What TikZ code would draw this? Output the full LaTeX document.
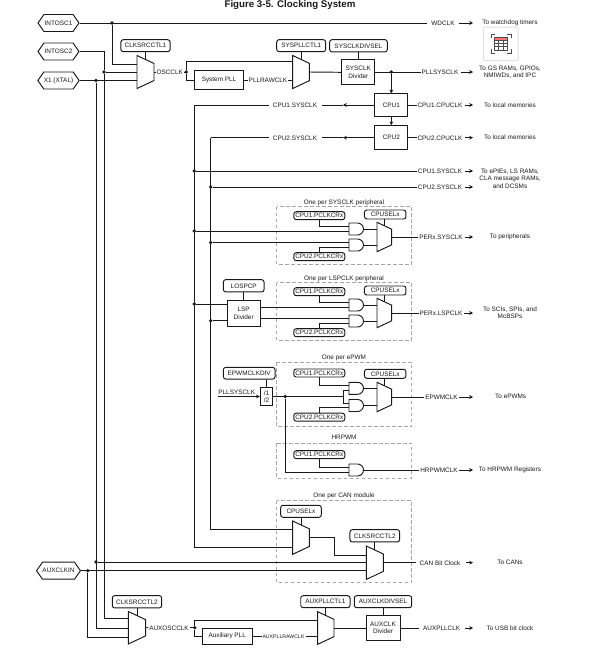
\documentclass[tikz,border=0pt]{standalone}
\usepackage{fontspec}
\setmainfont{Liberation Sans}
\usetikzlibrary{
  arrows.meta,shapes.symbols,positioning,calc
}
\definecolor{inkc}{gray}{0.1}
\tikzset{
  wire/.style={draw=inkc,line width=.95pt},
  tipline/.style={wire,-{Stealth[length=3.8pt,width=3.8pt]}},
  gate/.style={wire,fill=white,line join=miter},
  lbl/.style={font=\fontsize{6.4}{7.3}\selectfont,text=inkc,inner sep=.8pt,text height=4.6pt,text depth=0pt},
  smalllbl/.style={lbl,font=\fontsize{5.2}{6}\selectfont},
  note/.style={font=\fontsize{6.4}{7.3}\selectfont,text=inkc,align=center,inner sep=0pt},
  box/.style={wire,fill=white,inner sep=0pt,align=center,font=\fontsize{6.4}{7.3}\selectfont,text=inkc},
  reg/.style={box,rounded corners=2.4pt},
  pclk/.style={reg,minimum width=51pt,minimum height=8pt},
  sel/.style={reg,minimum width=41.5pt,minimum height=9pt},
  hexpin/.style={wire,fill=white,signal,signal to=east and west,signal pointer angle=110,
    minimum width=41pt,minimum height=17pt,inner sep=0pt,font=\fontsize{6.4}{7.3}\selectfont,text=inkc},
  dot/.style={circle,fill=inkc,inner sep=0pt,minimum size=3.8pt},
  group/.style={draw=black!35,line width=.7pt,dash pattern=on 3.5pt off 2.5pt}
}
\newcommand{\muxshape}[5]{
  \draw[gate] (#2,#4) -- (#3,{#4+(#3-#2)*.47}) -- (#3,{#5-(#3-#2)*.47}) -- (#2,#5) -- cycle;
  \coordinate (#1-o) at (#3,{(#4+#5)/2});
  \coordinate (#1-t) at ({(#2+#3)/2},{#4+(#3-#2)*.235});
}
\newcommand{\andshape}[3]{
  \draw[gate] (#2,#3) -- ({#2+8.5},#3) arc[start angle=90,end angle=-90,radius=6pt] -- (#2,{#3+12}) -- cycle;
  \coordinate (#1-a) at (#2,{#3+3.5});
  \coordinate (#1-b) at (#2,{#3+8});
  \coordinate (#1-o) at ({#2+14.5},{#3+6});
}
\begin{document}
\begin{tikzpicture}[x=1pt,y=-1pt]
  \useasboundingbox (0,0) rectangle (596,659);
  \node[font=\bfseries\fontsize{9.7}{10}\selectfont,text=inkc,inner sep=0pt,anchor=base] (title) at (290,7.3) {Figure 3-5. Clocking System};
  \coordinate (outx) at (473,0);

  % inputs
  \node[hexpin] (intosc1) at (58.5,23) {INTOSC1};
  \node[hexpin] (intosc2) at (58.5,51.5) {INTOSC2};
  \node[hexpin] (xtal) at (58.5,80.5) {X1 (XTAL)};
  \node[hexpin] (auxin) at (58.5,570.7) {AUXCLKIN};

  % osc mux and system pll
  \muxshape{oscm}{137}{154}{55.5}{88.5}
  \coordinate (oscm-a) at (137,64);
  \coordinate (oscm-b) at (137,72);
  \coordinate (oscm-c) at (137,80.5);
  \node[reg,minimum width=49.3pt,minimum height=12pt] (srca) at (145.5,45.7) {CLKSRCCTL1};
  \draw[wire] (srca.south -| oscm-t) -- (oscm-t);
  \node[dot] (jnwd) at (112,23) {};
  \node[dot] (jnint) at (104,72) {};
  \node[dot] (jnx) at (96,80.5) {};
  \node[dot] (jnxcan) at (96,562) {};
  \node[dot] (jnaux) at (87.7,570.7) {};
  \node[lbl] (wdclk) at (443,23) {WDCLK};
  \node[note] (towd) at (510,23) {To watchdog timers};
  \draw[wire,shorten >=3pt] (intosc1.east) -- (wdclk.west);
  \draw[tipline,shorten <=3pt] (wdclk.east) -- (wdclk -| outx);
  \draw[wire] (jnwd) |- (oscm-a);
  \draw[wire] (intosc2.east) -| (jnint);
  \draw[wire] (jnint) -- (oscm-b);
  \draw[wire] (xtal.east) -- (oscm-c);

  \node[lbl] (oscclk) at (169.7,72) {OSCCLK};
  \node[dot] (jnosc) at (186.3,72) {};
  \draw[wire] (oscm-o) -- (oscclk.west);
  \draw[wire] (oscclk.east) -- (jnosc);
  \node[box,minimum width=49.4pt,minimum height=18.3pt] (syspll) at (219,80) {System PLL};
  \node[lbl] (pllraw) at (268,80) {PLLRAWCLK};
  \muxshape{pllm}{292.7}{309.3}{55.5}{88.5}
  \coordinate (pllm-a) at (292.7,61.3);
  \coordinate (pllm-c) at (292.7,80);
  \draw[wire] (jnosc) |- (pllm-a);
  \draw[wire] (jnosc) |- (syspll.west);
  \draw[wire] (syspll.east) -- (pllraw.west);
  \draw[wire] (pllraw.east) -- (pllm-c);
  \node[reg,minimum width=49pt,minimum height=12pt] (pllctl) at (301.2,45.7) {SYSPLLCTL1};
  \node[reg,minimum width=57.6pt,minimum height=12.3pt] (divsel) at (358.5,45.8) {SYSCLKDIVSEL};
  \node[box,minimum width=33.3pt,minimum height=24.7pt] (sysdiv) at (358.3,72.3) {SYSCLK\\Divider};
  \draw[wire] (pllctl.south -| pllm-t) -- (pllm-t);
  \draw[wire] (divsel.south) -- (sysdiv.north -| divsel.south);
  \draw[wire] (pllm-o) -- (sysdiv.west);

  % cpus
  \node[lbl] (pllsys) at (440,72) {PLLSYSCLK};
  \node[note] (togs) at (510,72) {To GS RAMs, GPIOs,\\NMIWDs, and IPC};
  \node[dot] (jnpll) at (391.3,72) {};
  \draw[wire] (sysdiv.east |- pllsys) -- (pllsys.west);
  \draw[tipline,shorten <=2pt] (pllsys.east) -- (pllsys -| outx);
  \node[box,minimum width=33pt,minimum height=22.3pt] (cpua) at (391.3,105) {CPU1};
  \node[box,minimum width=33pt,minimum height=24pt] (cpub) at (391.3,137.7) {CPU2};
  \draw[tipline] (jnpll) -- (cpua.north);
  \draw[tipline] (cpua.south) -- (cpub.north);
  \node[lbl] (cpuclka) at (440,105) {CPU1.CPUCLK};
  \node[lbl] (cpuclkb) at (440,137.7) {CPU2.CPUCLK};
  \node[note] (tomema) at (510,105) {To local memories};
  \node[note] (tomemb) at (510,137.7) {To local memories};
  \draw[wire] (cpua.east) -- (cpuclka.west);
  \draw[wire] (cpub.east) -- (cpuclkb.west);
  \draw[tipline,shorten <=2pt] (cpuclka.east) -- (cpuclka -| outx);
  \draw[tipline,shorten <=2pt] (cpuclkb.east) -- (cpuclkb -| outx);
  \node[lbl] (sysa) at (295,105) {CPU1.SYSCLK};
  \node[lbl] (sysb) at (295,137.7) {CPU2.SYSCLK};
  \coordinate (tipa) at (343,105);
  \coordinate (tipb) at (343,137.7);
  \coordinate (busa) at (194.3,105);
  \coordinate (busb) at (210.7,137.7);
  \draw[tipline] (cpua.west) -- (tipa);
  \draw[wire,shorten >=4pt] (tipa) -- (sysa.east);
  \draw[tipline] (cpub.west) -- (tipb);
  \draw[wire,shorten >=4pt] (tipb) -- (sysb.east);
  \draw[wire,shorten <=3pt] (sysa.west) -- (busa);
  \draw[wire,shorten <=3pt] (sysb.west) -- (busb);
  \node[dot] (jna) at (194.3,171) {};
  \node[dot] (jnb) at (210.7,187) {};
  \node[lbl] (outa) at (440,171) {CPU1.SYSCLK};
  \node[lbl] (outb) at (440,187) {CPU2.SYSCLK};
  \node[note] (toepie) at (510,178.5) {To ePIEs, LS RAMs,\\CLA message RAMs,\\and DCSMs};
  \draw[wire] (jna) -- (outa.west);
  \draw[wire] (jnb) -- (outb.west);
  \draw[tipline,shorten <=2pt] (outa.east) -- (outa -| outx);
  \draw[tipline,shorten <=2pt] (outb.east) -- (outb -| outx);

  % one per SYSCLK / LSPCLK peripheral
  \foreach \b/\o/\t in {s/0/SYSCLK,l/76/LSPCLK} {
    \draw[group] (276.7,{206.7+\o}) rectangle (411.7,{264.3+\o});
    \node[lbl] (\b head) at (344,{201.7+\o}) {One per \t\ peripheral};
    \node[pclk] (\b pa) at (319.3,{215.7+\o}) {CPU1.PCLKCRx};
    \node[pclk] (\b pb) at (319.3,{256.7+\o}) {CPU2.PCLKCRx};
    \node[sel] (\b sel) at (385.2,{214.5+\o}) {CPUSELx};
    \andshape{\b and1}{349}{223+\o}
    \andshape{\b and2}{349}{239+\o}
    \muxshape{\b mux}{377}{391.7}{222.3+\o}{251.7+\o}
    \draw[wire] (\b sel.south -| \b mux-t) -- (\b mux-t);
    \draw[wire] (\b pa.south) |- (\b and1-a);
    \draw[wire] (\b pb.north) |- (\b and2-b);
    \draw[wire] (\b and1-o) -- (\b and1-o -| 377,0);
    \draw[wire] (\b and2-o) -- (\b and2-o -| 377,0);
  }
  \node[dot] (jnsa) at (194.3,231) {};
  \node[dot] (jnsb) at (210.7,242.5) {};
  \draw[wire] (jnsa) -- (sand1-b);
  \draw[wire] (jnsb) -- (sand2-a);
  \node[lbl] (perx) at (441,237) {PERx.SYSCLK};
  \node[note] (toper) at (510,236.5) {To peripherals};
  \draw[wire] (smux-o) -- (perx.west);
  \draw[tipline,shorten <=1pt] (perx.east) -- (perx -| outx);

  \node[reg,minimum width=40.7pt,minimum height=12.3pt] (lospcp) at (243.7,285.8) {LOSPCP};
  \node[box,minimum width=32.7pt,minimum height=26pt] (lspdiv) at (243.7,313.3) {LSP\\Divider};
  \draw[wire] (lospcp.south) -- (lspdiv.north);
  \node[dot] (jnla) at (194.3,304) {};
  \node[dot] (jnlb) at (210.7,320.7) {};
  \draw[wire] (jnla) -- (jnla -| lspdiv.west);
  \draw[wire] (jnlb) -- (jnlb -| lspdiv.west);
  \draw[wire] (lspdiv.east |- land1-b) -- (land1-b);
  \draw[wire] (lspdiv.east |- land2-a) -- (land2-a);
  \node[lbl] (perl) at (441,313) {PERx.LSPCLK};
  \node[note] (toscis) at (510,313) {To SCIs, SPIs, and\\McBSPs};
  \draw[wire] (lmux-o) -- (perl.west);
  \draw[tipline,shorten <=1pt] (perl.east) -- (perl -| outx);

  % one per ePWM
  \draw[group] (276.7,362.3) rectangle (411.7,426.7);
  \node[lbl] (ehead) at (344,356.7) {One per ePWM};
  \node[reg,minimum width=51.7pt,minimum height=11.7pt] (epdiv) at (249.2,373.2) {EPWMCLKDIV};
  \node[box,minimum width=12.4pt,minimum height=17.6pt] (halfdiv) at (266.5,396.5) {/1\\/2};
  \draw[wire] (epdiv.south -| halfdiv) -- (halfdiv.north);
  \node[lbl] (pllin) at (236.7,392.5) {PLLSYSCLK};
  \coordinate (pllfree) at (217.7,396.5);
  \draw[tipline] (pllfree) -- (halfdiv.west);
  \node[pclk] (epa) at (319.3,373) {CPU1.PCLKCRx};
  \node[pclk] (epb) at (319.3,417.2) {CPU2.PCLKCRx};
  \node[sel] (esel) at (385.2,373.8) {CPUSELx};
  \andshape{eand1}{349}{382.3}
  \andshape{eand2}{349}{399.5}
  \muxshape{emux}{377}{391.7}{382.3}{411.7}
  \draw[wire] (esel.south -| emux-t) -- (emux-t);
  \draw[wire] (epa.south) |- (eand1-a);
  \draw[wire] (epb.north) |- (eand2-b);
  \node[dot] (jne) at (285.3,396.5) {};
  \coordinate (efork) at (343.3,396.5);
  \draw[wire] (halfdiv.east) -- (efork);
  \draw[wire] (eand1-b) -| (efork) |- (eand2-a);
  \draw[wire] (eand1-o) -- (eand1-o -| 377,0);
  \draw[wire] (eand2-o) -- (eand2-o -| 377,0);
  \node[lbl] (epwmclk) at (441.5,397) {EPWMCLK};
  \node[note] (topwm) at (510.7,396.7) {To ePWMs};
  \draw[wire] (emux-o) -- (epwmclk.west);
  \draw[tipline] (epwmclk.east) -- (epwmclk -| outx);

  % hrpwm
  \draw[group] (276.7,443.3) rectangle (411.7,478.3);
  \node[lbl] (hhead) at (344,437.3) {HRPWM};
  \node[pclk] (hpa) at (319.3,454.7) {CPU1.PCLKCRx};
  \andshape{hand}{349}{464}
  \draw[wire] (hpa.south) |- (hand-a);
  \draw[wire] (jne) |- (hand-b);
  \node[lbl] (hrclk) at (439,470) {HRPWMCLK};
  \node[note] (tohr) at (510,469.7) {To HRPWM Registers};
  \draw[wire] (hand-o) -- (hrclk.west);
  \draw[tipline] (hrclk.east) -- (hrclk -| outx);

  % one per CAN module
  \draw[group] (276.7,500.7) rectangle (411.7,582.7);
  \node[lbl] (chead) at (344,494.7) {One per CAN module};
  \node[reg,minimum width=40.6pt,minimum height=12pt] (csel) at (301,511.3) {CPUSELx};
  \muxshape{cana}{292.7}{309.3}{521}{554.3}
  \coordinate (cana-a) at (292.7,529.7);
  \coordinate (cana-c) at (292.7,547.3);
  \draw[wire] (csel.south -| cana-t) -- (cana-t);
  \draw[wire] (busb) |- (cana-a);
  \draw[wire] (busa) |- (cana-c);
  \node[reg,minimum width=49.7pt,minimum height=12.3pt] (srcb) at (374.8,535.8) {CLKSRCCTL2};
  \muxshape{canb}{366.3}{383.3}{546}{579.4}
  \coordinate (canb-a) at (366.3,555);
  \coordinate (canb-b) at (366.3,562);
  \coordinate (canb-c) at (366.3,570.7);
  \coordinate (cankink) at (334,555);
  \draw[wire] (srcb.south -| canb-t) -- (canb-t);
  \draw[wire] (cana-o) -| (cankink) -- (canb-a);
  \draw[wire] (jnxcan) -- (canb-b);
  \draw[wire] (auxin.east) -- (canb-c);
  \node[lbl] (canclk) at (440,562.7) {CAN Bit Clock};
  \node[note] (tocan) at (510,562.7) {To CANs};
  \draw[wire,shorten >=3pt] (canb-o) -- (canclk.west);
  \draw[tipline,shorten <=5pt] (canclk.east) -- (canclk -| outx);

  % aux clock
  \muxshape{auxm}{128.3}{145.7}{611.5}{644}
  \coordinate (auxm-a) at (128.3,618);
  \coordinate (auxm-b) at (128.3,628);
  \coordinate (auxm-c) at (128.3,637);
  \node[reg,minimum width=49.4pt,minimum height=12.3pt] (srcc) at (137,601.8) {CLKSRCCTL2};
  \draw[wire] (srcc.south -| auxm-t) -- (auxm-t);
  \draw[wire] (jnint) |- (auxm-a);
  \draw[wire] (jnx) |- (auxm-b);
  \draw[wire] (jnaux) |- (auxm-c);
  \node[lbl] (auxosc) at (169,627.7) {AUXOSCCLK};
  \node[dot] (jnao) at (194.7,627.7) {};
  \draw[wire] (auxm-o) -- (auxosc.west);
  \draw[wire] (auxosc.east) -- (jnao);
  \node[box,minimum width=49.7pt,minimum height=15.7pt] (auxpll) at (227.2,636.2) {Auxiliary PLL};
  \node[smalllbl] (auxraw) at (283.5,636.2) {AUXPLLRAWCLK};
  \muxshape{auxn}{317.7}{334}{611.7}{644.3}
  \coordinate (auxn-a) at (317.7,620);
  \coordinate (auxn-c) at (317.7,636.2);
  \draw[wire] (jnao) |- (auxn-a);
  \draw[wire] (jnao) |- (auxpll.west);
  \draw[wire] (auxpll.east) -- (auxraw.west);
  \draw[wire] (auxraw.east) -- (auxn-c);
  \node[reg,minimum width=49.3pt,minimum height=12pt] (auxctl) at (325.4,601.7) {AUXPLLCTL1};
  \node[reg,minimum width=57.4pt,minimum height=12pt] (auxsel) at (383,601.7) {AUXCLKDIVSEL};
  \node[box,minimum width=34pt,minimum height=24.6pt] (auxdiv) at (383,628) {AUXCLK\\Divider};
  \draw[wire] (auxctl.south -| auxn-t) -- (auxn-t);
  \draw[wire] (auxsel.south) -- (auxdiv.north);
  \draw[wire] (auxn-o) -- (auxdiv.west);
  \node[lbl] (auxclk) at (441.7,628) {AUXPLLCLK};
  \node[note] (tousb) at (510,628) {To USB bit clock};
  \draw[wire,shorten >=3pt] (auxdiv.east) -- (auxclk.west);
  \draw[tipline,shorten <=4pt] (auxclk.east) -- (auxclk -| outx);

  % calendar badge
  \draw[draw=black!12,line width=1pt,fill=white,rounded corners=1pt] (483.5,27) rectangle (518,60.5);
  \draw[black!70,line width=.8pt] (491,38) |- (495,34) (507,34) -| (511,38) (511,49) |- (507,53) (495,53) -| (491,49);
  \fill[red!55] (494,37) rectangle (507.5,40);
  \draw[black!70,line width=.6pt] (494,37) rectangle (507.5,50) (494,40) -- (507.5,40) (494,43.3) -- (507.5,43.3) (494,46.7) -- (507.5,46.7) (498.5,40) -- (498.5,50) (503,40) -- (503,50);
\end{tikzpicture}
\end{document}
